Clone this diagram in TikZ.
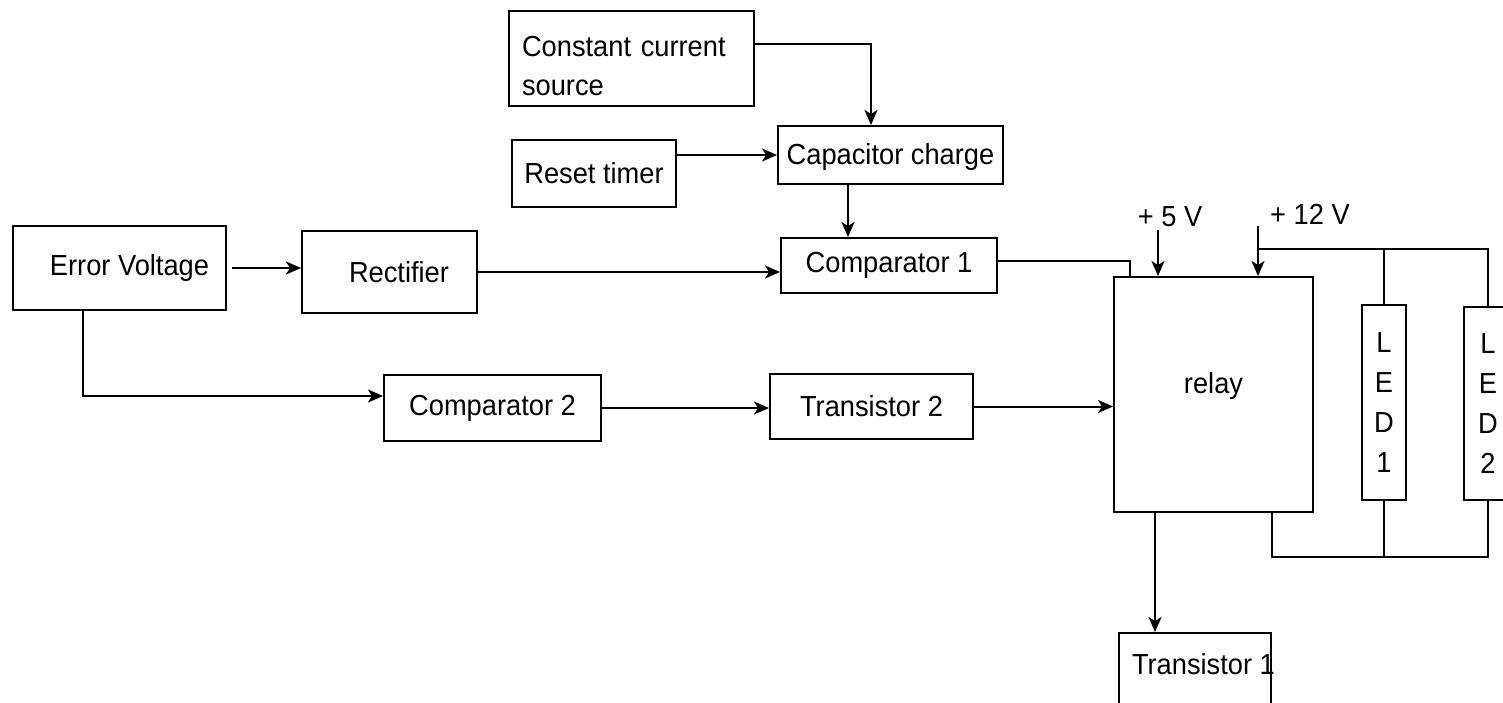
\documentclass[tikz,border=0pt]{standalone}
\usepackage{fontspec}
\setmainfont{Liberation Sans}[FakeStretch=0.94]
\usetikzlibrary{arrows.meta,calc}
\begin{document}
\begin{tikzpicture}[x=1pt,y=-1pt,
  every node/.style={font=\fontsize{29}{39}\selectfont},
  box/.style={draw, line width=2pt, inner sep=0pt},
  wire/.style={line width=2pt},
  arr/.style={wire, -{Stealth[length=15pt,width=13pt,inset=4pt]}}]
\useasboundingbox (0,0) rectangle (1503,702);
% boxes
\node[box, minimum width=245pt, minimum height=95pt, text width=219pt, align=left] (ccs) at (631.5,58.5) {\rule{0pt}{35pt}Constant current\\source};
\node[box, minimum width=164pt, minimum height=67pt] (reset) at (594,173.5) {Reset timer};
\node[box, minimum width=225pt, minimum height=58pt, text depth=2pt] (cap) at (890.5,155) {Capacitor charge};
\node[box, minimum width=216pt, minimum height=55pt] (comp1) at (889,265.5) {Comparator 1};
\node[box, minimum width=213pt, minimum height=84pt] (ev) at (119.5,268) {\hspace*{20pt}Error Voltage};
\node[box, minimum width=175pt, minimum height=82pt] (rect) at (389.5,272) {\hspace*{19pt}Rectifier};
\node[box, minimum width=217pt, minimum height=66pt] (comp2) at (492.5,408) {Comparator 2};
\node[box, minimum width=203pt, minimum height=65pt] (tr2) at (871.5,406.5) {Transistor 2};
\node[box, minimum width=199pt, minimum height=235pt, text depth=24pt] (relay) at (1213.5,394.5) {relay};
\node[box, minimum width=44pt, minimum height=195pt, align=center, font=\fontsize{29}{40}\selectfont] (led1) at (1384,402.5) {L\\E\\D\\1};
\node[box, minimum width=48pt, minimum height=193pt, align=center, font=\fontsize{29}{40}\selectfont] (led2) at (1488,403.5) {L\\E\\D\\2};
\node[box, anchor=north, minimum width=152pt, text height=22pt, text depth=70pt, inner ysep=19pt] (tr1) at (1195,632) {\makebox[126pt][l]{Transistor 1}};
% supply labels
\node (l5) at (1170,216.5) {+ 5 V};
\node (l12) at (1310,214.5) {+ 12 V};
% coordinates
\coordinate (v5) at (1158,230);
\coordinate (v12) at (1258,226);
\coordinate (j12) at (1258,249);
\coordinate (evb) at (83,396);
\coordinate (bus) at (1488,557);
\coordinate (rq) at ([xshift=-58.5pt]relay.south);
\coordinate (rr) at ([xshift=58.5pt]relay.south);
\coordinate (c1in) at ([xshift=-83.5pt]relay.north);
\coordinate (ccsout) at ([yshift=14.5pt]ccs.east);
\coordinate (capin) at ([xshift=-19.5pt]cap.north);
\coordinate (capout) at ([xshift=-42.5pt]cap.south);
\coordinate (c1out) at ([yshift=4.5pt]comp1.east);
% connectors
\draw[arr] (ccsout) -| (capin);
\draw[arr] (reset.east |- cap.west) -- (cap.west);
\draw[arr] (capout) -- (capout |- comp1.north);
\draw[arr, shorten <=5pt] (ev.east) -- (ev.east -| rect.west);
\draw[arr] (rect.east) -- (rect.east -| comp1.west);
\draw[arr] (ev.south -| evb) -- (evb) -- (evb -| comp2.west);
\draw[arr] (comp2.east) -- (comp2.east -| tr2.west);
\draw[arr] (tr2.east) -- (tr2.east -| relay.west);
\draw[wire] (c1out) -| (c1in);
\draw[arr] (v5) -- (v5 |- relay.north);
\draw[arr] (v12) -- (v12 |- relay.north);
\draw[wire] (j12) -| (led2.north);
\draw[wire] (led1.north) -- (led1.north |- j12);
\draw[wire] (rr) |- (bus) -- (led2.south);
\draw[wire] (led1.south) -- (led1.south |- bus);
\draw[arr] (rq) -- (rq |- tr1.north);
\end{tikzpicture}
\end{document}
